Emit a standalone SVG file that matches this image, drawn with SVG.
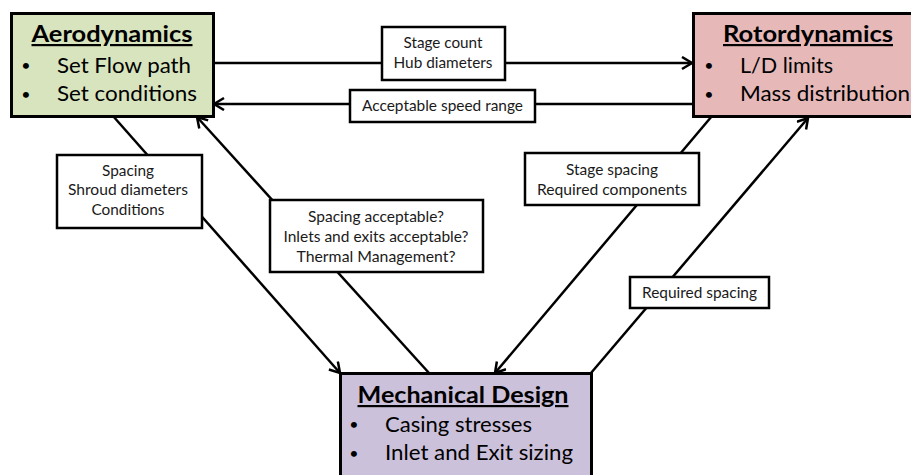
<svg xmlns="http://www.w3.org/2000/svg" width="911" height="475" viewBox="0 0 911 475">
<style>
.node{stroke:#000;stroke-width:3}
.lbl{fill:#fff;stroke:#000;stroke-width:2.5}
.t{font-family:Lato,"Liberation Sans",sans-serif;fill:#000}
.title{font-size:22px;font-weight:bold;text-decoration:underline}
.item{font-size:21px}
.bul{font-size:16px;text-anchor:middle}
.small{font-size:15px;fill:#1a1a1a}
.con{stroke:#000;stroke-width:2.5;fill:none;marker-end:url(#arr)}
</style>
<defs>
<marker id="arr" markerUnits="userSpaceOnUse" markerWidth="14" markerHeight="16" refX="11" refY="7" orient="auto">
<path d="M1,1 L11,7 L1,13" fill="none" stroke="#000" stroke-width="2.5"/>
</marker>
</defs>
<rect width="911" height="475" fill="#fff"/>
<g id="connectors">
<line class="con" x1="213" y1="63" x2="692" y2="63"/>
<line class="con" x1="693" y1="104" x2="214" y2="104"/>
<line class="con" x1="113" y1="116" x2="340" y2="373"/>
<line class="con" x1="429" y1="373" x2="197" y2="117"/>
<line class="con" x1="712" y1="116" x2="495" y2="373"/>
<line class="con" x1="591" y1="373" x2="808" y2="118"/>
</g>
<g id="aerodynamics">
<rect class="node" x="11.5" y="13.5" width="202" height="103" fill="#d7e4bd"/>
<text class="t title" x="112" y="42" text-anchor="middle" textLength="161" lengthAdjust="spacingAndGlyphs">Aerodynamics</text>
<text class="t bul" x="26" y="71">•</text>
<text class="t item" x="57" y="73" textLength="134" lengthAdjust="spacingAndGlyphs">Set Flow path</text>
<text class="t bul" x="26" y="100">•</text>
<text class="t item" x="57" y="101" textLength="140" lengthAdjust="spacingAndGlyphs">Set conditions</text>
</g>
<g id="rotordynamics">
<rect class="node" x="693.5" y="13.5" width="230" height="103" fill="#e6b9b8"/>
<text class="t title" x="808" y="42" text-anchor="middle" textLength="170" lengthAdjust="spacingAndGlyphs">Rotordynamics</text>
<text class="t bul" x="709" y="71">•</text>
<text class="t item" x="740" y="73" textLength="93" lengthAdjust="spacingAndGlyphs">L/D limits</text>
<text class="t bul" x="709" y="100">•</text>
<text class="t item" x="740" y="101" textLength="170" lengthAdjust="spacingAndGlyphs">Mass distribution</text>
</g>
<g id="mechanical">
<rect class="node" x="340.5" y="373.5" width="251" height="120" fill="#ccc1da"/>
<text class="t title" x="463" y="403" text-anchor="middle" textLength="211" lengthAdjust="spacingAndGlyphs">Mechanical Design</text>
<text class="t bul" x="354" y="430">•</text>
<text class="t item" x="385" y="432" textLength="147" lengthAdjust="spacingAndGlyphs">Casing stresses</text>
<text class="t bul" x="354" y="459">•</text>
<text class="t item" x="385" y="460" textLength="188" lengthAdjust="spacingAndGlyphs">Inlet and Exit sizing</text>
</g>
<g id="lbl-stage-count">
<rect class="lbl" x="382" y="27" width="123" height="53"/>
<text class="t small" x="443" y="48" text-anchor="middle" textLength="79" lengthAdjust="spacingAndGlyphs">Stage count</text>
<text class="t small" x="443" y="68" text-anchor="middle" textLength="99" lengthAdjust="spacingAndGlyphs">Hub diameters</text>
</g>
<g id="lbl-speed">
<rect class="lbl" x="350" y="90" width="185" height="32"/>
<text class="t small" x="442.5" y="111" text-anchor="middle" textLength="161" lengthAdjust="spacingAndGlyphs">Acceptable speed range</text>
</g>
<g id="lbl-spacing">
<rect class="lbl" x="57" y="155" width="145" height="73"/>
<text class="t small" x="128" y="176" text-anchor="middle" textLength="52" lengthAdjust="spacingAndGlyphs">Spacing</text>
<text class="t small" x="128" y="195" text-anchor="middle" textLength="120" lengthAdjust="spacingAndGlyphs">Shroud diameters</text>
<text class="t small" x="128" y="215" text-anchor="middle" textLength="73" lengthAdjust="spacingAndGlyphs">Conditions</text>
</g>
<g id="lbl-acceptable">
<rect class="lbl" x="270" y="200" width="213" height="72"/>
<text class="t small" x="376" y="222" text-anchor="middle" textLength="136" lengthAdjust="spacingAndGlyphs">Spacing acceptable?</text>
<text class="t small" x="376" y="242" text-anchor="middle" textLength="185" lengthAdjust="spacingAndGlyphs">Inlets and exits acceptable?</text>
<text class="t small" x="376" y="262" text-anchor="middle" textLength="159" lengthAdjust="spacingAndGlyphs">Thermal Management?</text>
</g>
<g id="lbl-stage-spacing">
<rect class="lbl" x="525" y="153" width="174" height="52"/>
<text class="t small" x="612" y="175" text-anchor="middle" textLength="92" lengthAdjust="spacingAndGlyphs">Stage spacing</text>
<text class="t small" x="612" y="195" text-anchor="middle" textLength="150" lengthAdjust="spacingAndGlyphs">Required components</text>
</g>
<g id="lbl-required-spacing">
<rect class="lbl" x="630" y="277" width="139" height="31"/>
<text class="t small" x="699.5" y="298" text-anchor="middle" textLength="115" lengthAdjust="spacingAndGlyphs">Required spacing</text>
</g>
</svg>
